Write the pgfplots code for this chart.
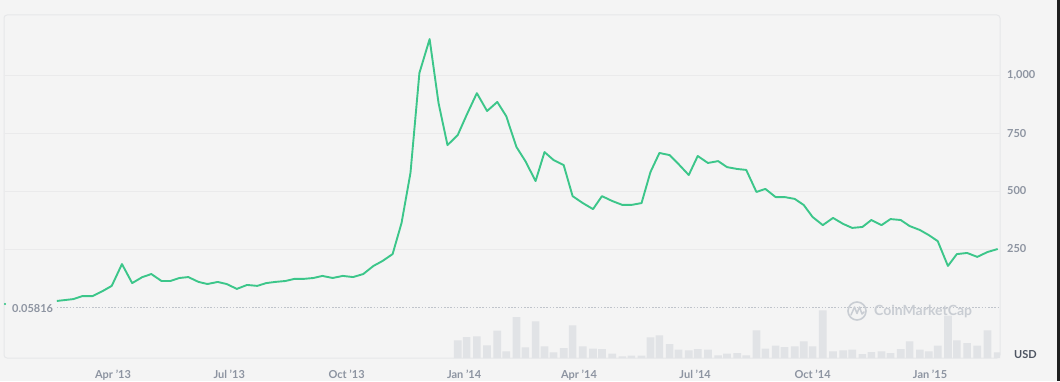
\documentclass[border=0pt]{standalone}
\usepackage{pgfplots}
\pgfplotsset{compat=1.18}
\usepackage{pgfplotstable}
\usetikzlibrary{backgrounds}
\usepackage{fontspec}
\setmainfont{Lato}
\definecolor{bg}{HTML}{F4F4F4}
\definecolor{framec}{HTML}{E6E7E9}
\definecolor{gridc}{HTML}{EAEAEB}
\definecolor{cmcgreen}{HTML}{3CC68A}
\definecolor{lab}{HTML}{8D94A1}
\definecolor{vol}{HTML}{E1E3E6}
\definecolor{wm}{HTML}{C9CDD3}
\definecolor{usd}{HTML}{4E5562}

\pgfplotstableread{
day price
46 26
59 34
66 47
74 47
82 69
89 91
97 185
105 103
113 129
120 142
128 112
135 112
142 125
149 129
157 108
164 99
172 108
179 99
187 78
195 95
203 91
210 103
217 108
225 112
232 121
239 121
247 125
254 134
262 125
270 134
278 129
286 142
294 177
301 198
309 228
316 362
323 578
330 1009
338 1155
345 879
352 698
360 741
367 828
375 922
383 845
391 884
398 823
406 690
413 629
421 543
428 668
435 634
443 612
450 478
458 448
466 422
473 478
481 457
489 440
496 440
504 448
511 582
518 664
526 655
533 616
541 569
548 651
556 621
564 629
571 603
579 595
586 591
594 496
601 509
609 474
616 474
624 466
631 440
638 388
646 353
654 384
662 358
669 341
677 345
684 375
692 353
699 379
707 375
714 349
722 332
729 310
736 284
744 177
751 228
759 233
767 216
775 237
783 250
}\pricedata

\pgfplotstableread{
day vol
360 17.7
367 21
375 21.7
383 12.7
391 27.3
398 6.7
406 41
413 10.7
421 36.7
428 11.7
435 5.7
443 10
450 32.7
458 11.7
466 9.3
473 9
481 4.3
489 1.7
496 2.3
504 2.3
511 20.7
518 22.7
526 14
533 8.3
541 7.7
548 9
556 8.3
564 2.7
571 4.3
579 5
586 2.7
594 27.7
601 9.3
609 12.3
616 11
624 11.7
631 16.7
638 11.7
646 47.7
654 6.7
662 7.7
669 8.3
677 4
684 6
692 6.7
699 5
707 9
714 16.7
722 8.3
729 6.7
736 12.3
744 42.3
751 17.7
759 15
767 12.3
775 27.7
783 5.7
}\voldata

\begin{document}
\begin{tikzpicture}[x=1pt,y=1pt]
% volume
\begin{axis}[at={(4pt,23pt)}, anchor=south west, scale only axis,
  width=996pt, height=343pt,
  xmin=4.6, xmax=784.8, ymin=0, ymax=343,
  axis lines=none, ticks=none]
\addplot[ybar, bar width=6, fill=vol, draw=none] table[x=day, y=vol] {\voldata};
\end{axis}

% price
\begin{axis}[at={(4pt,23pt)}, anchor=south west, scale only axis,
  width=996pt, height=343pt,
  xmin=4.6, xmax=784.8, ymin=-220, ymax=1259,
  axis line style={draw=none},
  major tick length=0pt,
  ytick={250,500,750,1000},
  yticklabels={250,500,750,{1,000}},
  yticklabel pos=right,
  ymajorgrids,
  grid style={gridc, line width=0.8pt},
  xtick={90,181,273,365,455,546,638,730},
  xticklabels={Apr '13,Jul '13,Oct '13,Jan '14,Apr '14,Jul '14,Oct '14,Jan '15},
  tick label style={font=\fontsize{11}{13}\selectfont\bfseries, text=lab},
  yticklabel style={anchor=west, inner sep=0pt, xshift=7pt},
  xticklabel style={anchor=base, inner sep=0pt, yshift=-20pt},
  clip=false]
\addplot[lab!55, line width=0.9pt, dash pattern=on 1.6pt off 1.6pt] coordinates {(46,0.05816) (784.8,0.05816)};
\addplot[cmcgreen, line width=1.9pt, line join=round] table[x=day, y=price] {\pricedata};
\addplot[only marks, mark=*, mark size=0.9pt, cmcgreen] coordinates {(5.4,13)};
\end{axis}

% watermark
\draw[wm, line width=1.6pt] (857,70) circle (9);
\draw[wm, line width=1.5pt, line join=round, line cap=round]
  (851,66) -- (854.5,74) -- (857,67.5) -- (859.5,74) -- (862,67) -- (864,69);
\node[anchor=west, inner sep=0pt, text=wm, font=\fontsize{14}{16}\selectfont\bfseries] at (874,70) {CoinMarketCap};

\node[anchor=west, inner sep=0pt, text=lab, font=\fontsize{11}{13}\selectfont\bfseries] at (12,72) {0.05816};
\node[anchor=west, inner sep=0pt, text=usd, font=\fontsize{11}{13}\selectfont\bfseries] at (1014,26) {USD};

\begin{pgfonlayer}{background}
\fill[bg] (0,0) rectangle (1060,381);
\fill[black!88] (1057,0) rectangle (1060,381);
\draw[framec, line width=1pt, rounded corners=3pt] (4,23) rectangle (1000,366);
\end{pgfonlayer}
\end{tikzpicture}
\end{document}
